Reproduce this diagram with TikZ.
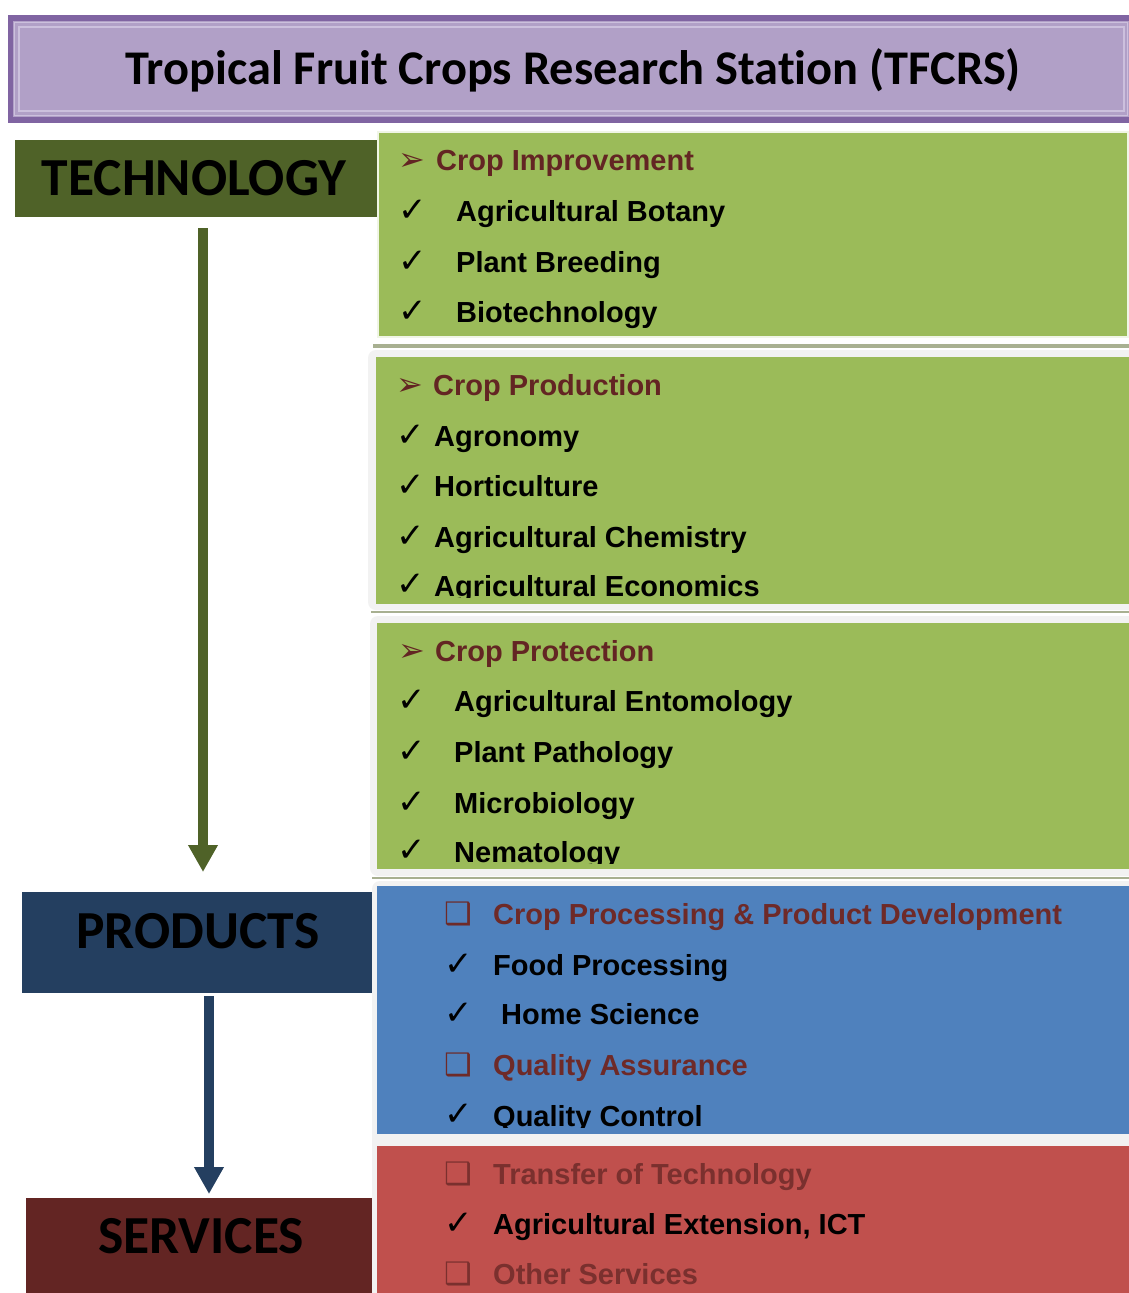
\documentclass[tikz,border=0pt]{standalone}
\usepackage{fontspec}
\setmainfont{Liberation Sans}
\newfontfamily\calfont[Ligatures={NoCommon}]{Carlito}
\newfontfamily\symfont{DejaVu Sans}
\usetikzlibrary{arrows.meta}
\definecolor{ttlDark}{HTML}{8064A2}
\definecolor{ttlFill}{HTML}{B1A0C7}
\definecolor{ttlLine}{HTML}{CCC0DD}
\definecolor{techGreen}{HTML}{4F6228}
\definecolor{prodNavy}{HTML}{243F60}
\definecolor{servRed}{HTML}{632523}
\definecolor{panGreen}{HTML}{9BBB59}
\definecolor{panBlue}{HTML}{4F81BD}
\definecolor{panRed}{HTML}{C0504D}
\definecolor{panGrey}{HTML}{F2F2F2}
\definecolor{sepLine}{HTML}{A8B091}
\definecolor{headRed}{HTML}{632523}
\definecolor{headRedB}{HTML}{6E2A28}
\definecolor{headRedC}{HTML}{7A302E}
\begin{document}
\begin{tikzpicture}[x=1pt,y=-1pt,
  catbox/.style={inner sep=0pt, outer sep=0pt, draw=none},
  cattext/.style={font=\calfont\bfseries\fontsize{53.5}{60}\selectfont, text=black, inner sep=0pt},
  item/.style={anchor=base west, inner sep=0pt, font=\bfseries\fontsize{29}{34}\selectfont, text=black},
  head/.style={item, text=headRed},
  chk/.style={anchor=base west, inner sep=0pt, font=\symfont\fontsize{34}{40}\selectfont, text=black},
  arrb/.style={anchor=base west, inner sep=0pt, font=\symfont\bfseries\fontsize{32}{36}\selectfont, text=headRed},
  sqb/.style={anchor=base west, inner sep=0pt, font=\symfont\bfseries\fontsize{31}{36}\selectfont},
  flow/.style={line width=10pt, -{Triangle[length=27pt,width=28pt]}}
]
\useasboundingbox (0,0) rectangle (1129,1293);
\fill[white] (0,0) rectangle (1129,1293);

% title
\fill[ttlDark] (8,15) rectangle (1129,123);
\fill[ttlFill] (13,21) rectangle (1129,117);
\draw[ttlLine, line width=1.5pt] (14.5,22.5) rectangle (1127.5,115.5);
\draw[ttlLine, line width=1.2pt] (19,27) rectangle (1124,111);
\node[inner sep=0pt, font=\calfont\bfseries\fontsize{48.4}{54}\selectfont] (title) at (573,70) {Tropical Fruit Crops Research Station (TFCRS)};

% left category boxes
\node[catbox, fill=techGreen, minimum width=363pt, minimum height=77pt] (tech) at (196.5,178.5) {};
\node[cattext] (techT) at (194,178) {TECHNOLOGY};
\node[catbox, fill=prodNavy, minimum width=350pt, minimum height=101pt] (prod) at (197,942.5) {};
\node[cattext] (prodT) at (198,931) {PRODUCTS};
\node[catbox, fill=servRed, minimum width=346pt, minimum height=100pt] (serv) at (199,1248) {};
\node[cattext] (servT) at (201,1236) {SERVICES};

\draw[flow, techGreen] ([xshift=6.5pt,yshift=-11pt]tech.south) -- ([xshift=6pt,yshift=20pt]prod.north);
\draw[flow, prodNavy] ([xshift=12pt,yshift=-3pt]prod.south) -- ([xshift=10pt,yshift=4pt]serv.north);

% panel backgrounds
\fill[panGreen] (379,133) rectangle (1127,336);
\draw[white!85!panGreen, line width=1.5pt] (378,132) rectangle (1128,337);
\fill[sepLine] (373,344) rectangle (1129,348);
\fill[panGrey, rounded corners=8pt] (368,350) rectangle (1145,610);
\fill[panGreen] (376,357) rectangle (1129,604);
\fill[sepLine] (371,611) rectangle (1129,613);
\fill[panGrey, rounded corners=8pt] (370,616) rectangle (1145,876);
\fill[panGreen] (377,623) rectangle (1129,869);
\fill[sepLine] (372,877) rectangle (1129,879);
\fill[panGrey, rounded corners=8pt] (372,881) rectangle (1145,1300);
\fill[panBlue] (377,886) rectangle (1129,1134);
\fill[panRed] (377,1146) rectangle (1129,1293);

% panel 1
\node[arrb] (p1a) at (398,170) {➢};
\node[head] (p1h) at (436,170) {Crop Improvement};
\node[chk] (p1c1) at (398,221) {✓};
\node[item] (p1i1) at (456,221) {Agricultural Botany};
\node[chk] (p1c2) at (398,272) {✓};
\node[item] (p1i2) at (456,272) {Plant Breeding};
\node[chk] (p1c3) at (398,322) {✓};
\node[item] (p1i3) at (456,322) {Biotechnology};

% panel 2
\node[arrb] (p2a) at (396,395) {➢};
\node[head] (p2h) at (433,395) {Crop Production};
\node[chk] (p2c1) at (396,446) {✓};
\node[item] (p2i1) at (434,446) {Agronomy};
\node[chk] (p2c2) at (396,496) {✓};
\node[item] (p2i2) at (434,496) {Horticulture};
\node[chk] (p2c3) at (396,547) {✓};
\node[item] (p2i3) at (434,547) {Agricultural Chemistry};
\node[chk] (p2c4) at (396,595) {✓};
\begin{scope}
\clip (376,560) rectangle (1129,597);
\node[item] (p2i4) at (434,596) {Agricultural Economics};
\end{scope}

% panel 3
\node[arrb] (p3a) at (398,661) {➢};
\node[head] (p3h) at (435,661) {Crop Protection};
\node[chk] (p3c1) at (397,711) {✓};
\node[item] (p3i1) at (454,711) {Agricultural Entomology};
\node[chk] (p3c2) at (397,762) {✓};
\node[item] (p3i2) at (454,762) {Plant Pathology};
\node[chk] (p3c3) at (397,813) {✓};
\node[item] (p3i3) at (454,813) {Microbiology};
\node[chk] (p3c4) at (397,861) {✓};
\begin{scope}
\clip (377,825) rectangle (1129,863);
\node[item] (p3i4) at (454,862) {Nematology};
\end{scope}

% blue panel
\node[sqb, text=headRedB] (p4s1) at (444,924) {❑};
\node[item, text=headRedB] (p4h1) at (493,924) {Crop Processing \& Product Development};
\node[chk] (p4c1) at (444,975) {✓};
\node[item] (p4i1) at (493,975) {Food Processing};
\node[chk] (p4c2) at (444,1024) {✓};
\node[item] (p4i2) at (501,1024) {Home Science};
\node[sqb, text=headRedB] (p4s2) at (444,1075) {❑};
\node[item, text=headRedB] (p4h2) at (493,1075) {Quality Assurance};
\node[chk] (p4c3) at (444,1125) {✓};
\begin{scope}
\clip (377,1090) rectangle (1129,1127);
\node[item] (p4i3) at (493,1126) {Quality Control};
\end{scope}

% red panel
\node[sqb, text=headRedC] (p5s1) at (444,1184) {❑};
\node[item, text=headRedC] (p5h1) at (493,1184) {Transfer of Technology};
\node[chk] (p5c1) at (444,1234) {✓};
\node[item] (p5i1) at (493,1234) {Agricultural Extension, ICT};
\node[sqb, text=headRedC] (p5s2) at (444,1284) {❑};
\node[item, text=headRedC] (p5h2) at (493,1284) {Other Services};
\end{tikzpicture}
\end{document}
